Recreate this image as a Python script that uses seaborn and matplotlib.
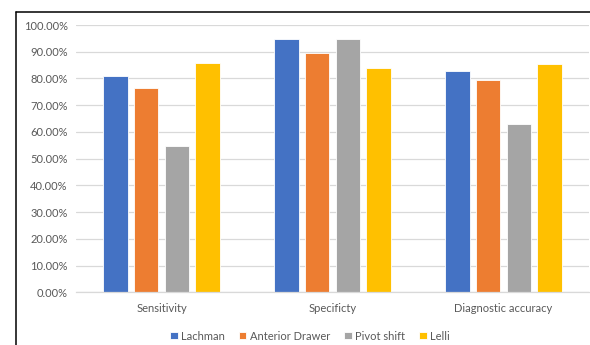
import matplotlib
matplotlib.use("Agg")
import matplotlib.pyplot as plt
from matplotlib.lines import Line2D
from matplotlib.ticker import PercentFormatter, MultipleLocator
import seaborn as sns
import pandas as pd

# Measures and diagnostic tests
categories = ["Sensitivity", "Specificty", "Diagnostic accuracy"]
tests = ["Lachman", "Anterior Drawer", "Pivot shift", "Lelli"]

lachman = [81.1, 94.8, 82.9]
anterior_drawer = [76.5, 89.4, 79.5]
pivot_shift = [54.8, 94.8, 63.0]
lelli = [85.8, 84.0, 85.4]

colors = ["#4472C4", "#ED7D31", "#A5A5A5", "#FFC000"]

rows = []
for test, vals in zip(tests, [lachman, anterior_drawer, pivot_shift, lelli]):
    for cat, v in zip(categories, vals):
        rows.append({"measure": cat, "test": test, "value": v / 100})
df = pd.DataFrame(rows)

sns.set_theme(style="white")
plt.rcParams["font.family"] = ["Lato", "DejaVu Sans"]

W, H = 590, 345
fig = plt.figure(figsize=(W / 100, H / 100), dpi=100)
ax = fig.add_axes([76 / W, 1 - 292.3 / H, (589 - 76) / W, (292.3 - 25) / H])

sns.barplot(data=df, x="measure", y="value", hue="test", order=categories,
            hue_order=tests, palette=colors, width=0.72, gap=0.2,
            saturation=1, edgecolor="white", linewidth=0.6, ax=ax,
            legend=True)

ax.set_ylim(0, 1.0)
ax.set_xlim(-0.5, 2.5)
ax.yaxis.set_major_locator(MultipleLocator(0.1))
ax.yaxis.set_major_formatter(PercentFormatter(1.0, decimals=2))
ax.grid(axis="y", color="#D9D9D9", linewidth=0.9)
ax.set_axisbelow(True)
for s in ["top", "right", "left"]:
    ax.spines[s].set_visible(False)
ax.spines["bottom"].set_color("#D9D9D9")
ax.spines["bottom"].set_linewidth(0.9)
ax.set_xlabel("")
ax.set_ylabel("")
ax.tick_params(axis="y", length=0, pad=6, labelsize=8, labelcolor="#595959")
ax.tick_params(axis="x", length=0, pad=8, labelsize=8, labelcolor="#595959")

handles, labels = ax.get_legend_handles_labels()
ax.legend(handles, labels, loc="center", bbox_to_anchor=(310 / W, 1 - 336 / H),
          bbox_transform=fig.transFigure, ncol=4, frameon=False,
          handlelength=0.65, handleheight=0.65, handletextpad=0.3,
          columnspacing=1.3, fontsize=8, labelcolor="#595959")

# Chart frame edges
fig.add_artist(Line2D([15.5 / W, 1], [1 - 11.5 / H, 1 - 11.5 / H],
                      transform=fig.transFigure, color="black", linewidth=1.1))
fig.add_artist(Line2D([15.5 / W, 15.5 / W], [0, 1 - 11.5 / H],
                      transform=fig.transFigure, color="black", linewidth=1.1))

fig.savefig("out.png", dpi=100)
